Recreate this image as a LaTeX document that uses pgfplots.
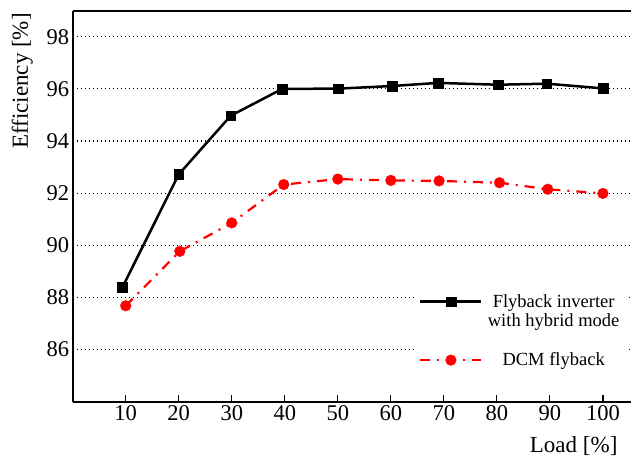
\documentclass[border=0pt]{standalone}
\usepackage{fontspec}
\setmainfont{Liberation Serif}
\usepackage{pgfplots}
\pgfplotsset{compat=1.18}
\begin{document}
\begin{tikzpicture}
\begin{axis}[
  at={(0,0)}, anchor=south west,
  scale only axis, width=558.3pt, height=391pt,
  xmin=0, xmax=105.3, ymin=84, ymax=99,
  axis x line*=box, axis y line*=left,
  axis line style={line width=1.9pt},
  xtick={10,20,...,100}, ytick={86,88,...,98},
  xtick pos=bottom, tick align=inside,
  xtick style={line width=1.2pt, black},
  major tick length=7pt,
  ytick style={draw=none},
  ymajorgrids,
  grid style={black, line width=1.1pt, dash pattern=on 1.1pt off 2.9pt},
  /pgf/number format/assume math mode=true,
  tick label style={font=\fontsize{22.5}{22.5}\selectfont},
  xlabel={Load [\%]}, ylabel={Efficiency [\%]},
  label style={font=\fontsize{23}{23}\selectfont},
  xlabel style={inner sep=0pt, anchor=base east, at={(axis description cs:0.976,0)}, yshift=-51pt},
  ylabel style={inner sep=0pt, rotate=0, anchor=east, at={(axis description cs:-0.0905,0.994)}},
  legend style={at={(axis description cs:0.613,0.29)}, anchor=north west, draw=none, fill=white,
    font=\fontsize{18.5}{19}\selectfont, row sep=40pt, inner sep=4pt},
  legend image code/.code={\draw[mark repeat=2,mark phase=2] plot coordinates {(0pt,0pt) (30.5pt,0pt) (61pt,0pt)};},
]
\addplot[black, line width=2.5pt, mark=square*, mark size=4.9pt, mark options={solid, line width=0.3pt}]
 coordinates {(9.4,88.4) (20,92.72) (29.8,94.97) (39.5,96.0) (50,96.01) (60.2,96.11) (68.9,96.23) (80.2,96.16) (89.4,96.2) (100,96.02)};
\addlegendentry{\parbox[t]{138pt}{\centering Flyback inverter\\with hybrid mode}}
\addplot[red, line width=2.2pt, dash pattern=on 10pt off 7pt on 2pt off 7pt, mark=*, mark size=5.4pt, mark options={solid, line width=0.3pt}]
 coordinates {(10,87.68) (20.2,89.77) (30,90.86) (39.8,92.33) (50,92.54) (60,92.49) (69.1,92.47) (80.5,92.4) (89.6,92.15) (100,91.99)};
\addlegendentry{\parbox[t]{138pt}{\centering DCM flyback}}
\end{axis}
\pgfresetboundingbox
\path[use as bounding box] (-72.7pt,-55.3pt) rectangle (558.3pt,401.7pt);
\end{tikzpicture}
\end{document}
